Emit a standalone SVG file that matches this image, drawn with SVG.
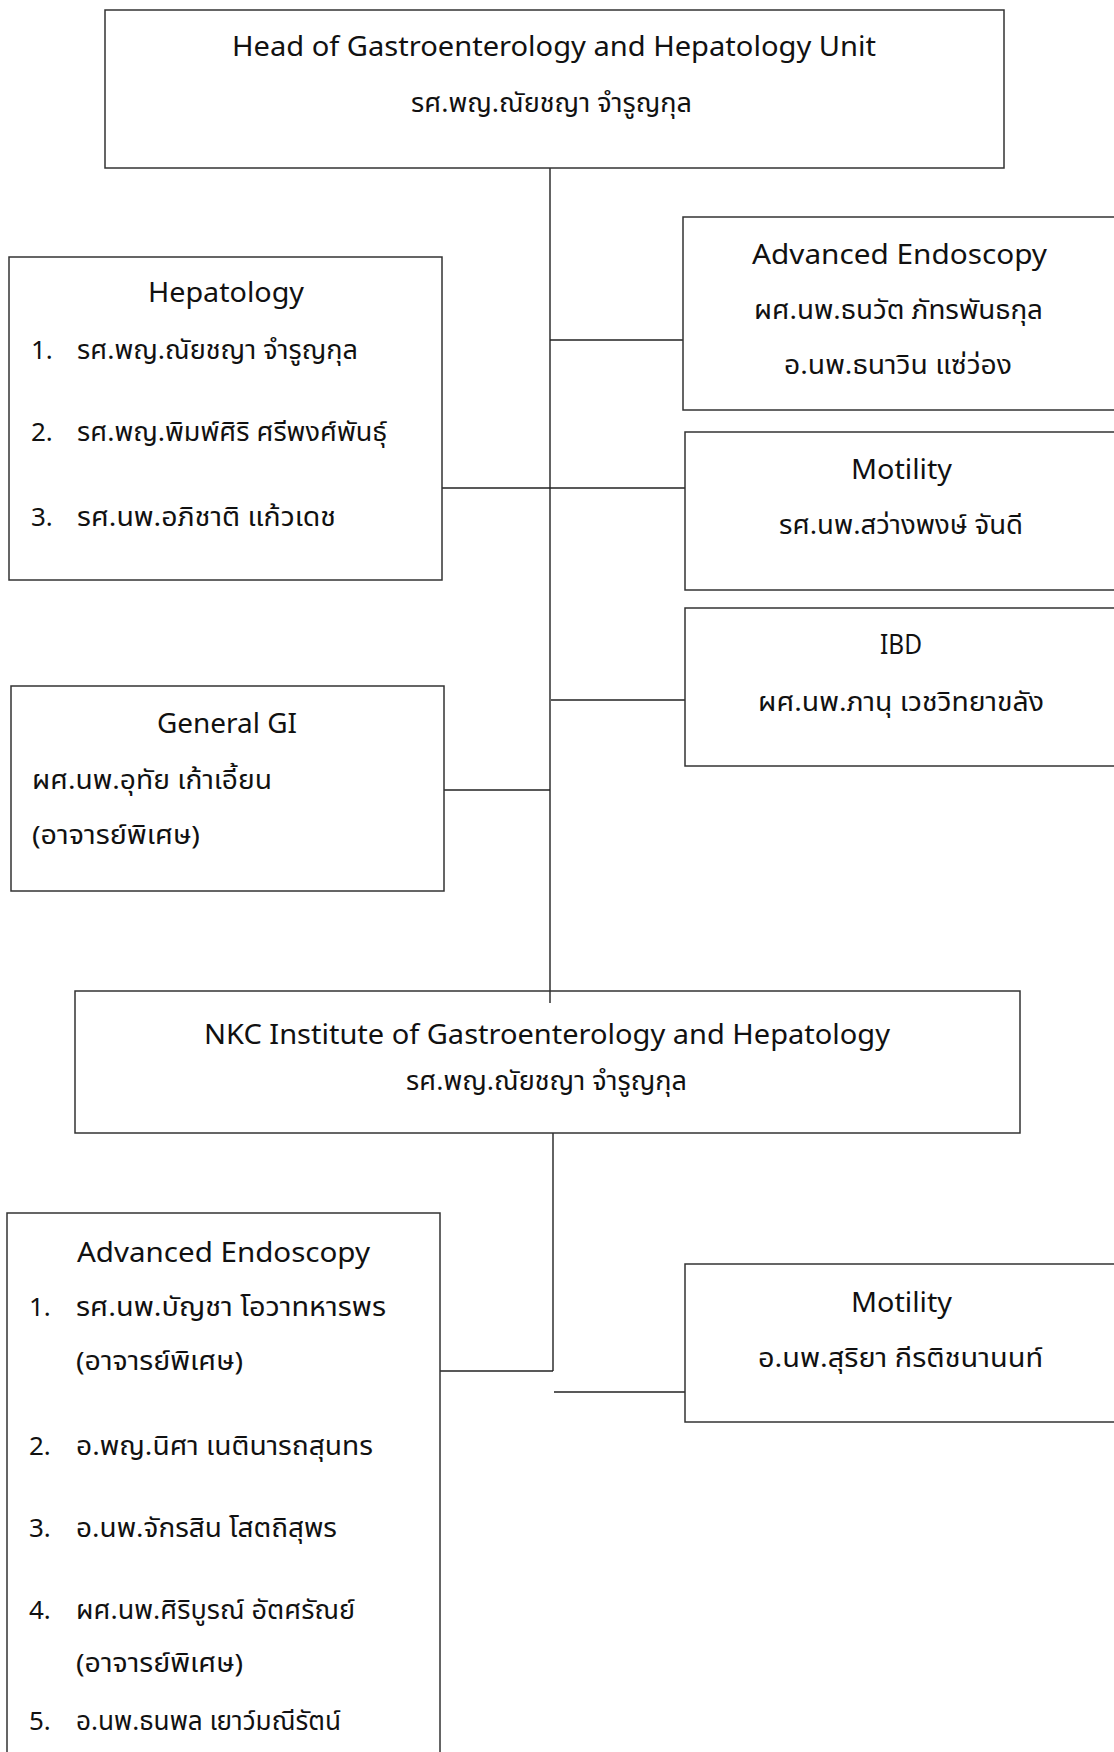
<svg xmlns="http://www.w3.org/2000/svg" width="1114" height="1752" viewBox="0 0 1114 1752">
<style>
  .box { fill: none; stroke: #333333; stroke-width: 1.5; }
  .conn { fill: none; stroke: #222222; stroke-width: 1.4; }
  text { font-family: "Noto Sans", "Noto Sans Thai", "Leelawadee UI", Tahoma, "DejaVu Sans", sans-serif; font-size: 26px; fill: #111111; }
  .lat { font-size: 27px; }
</style>
<rect x="0" y="0" width="1114" height="1752" fill="#ffffff"/>

<g id="connectors">
  <line class="conn" x1="550" y1="168" x2="550" y2="1003"/>
  <line class="conn" x1="550" y1="340" x2="683" y2="340"/>
  <line class="conn" x1="442" y1="488" x2="685" y2="488"/>
  <line class="conn" x1="551" y1="700" x2="685" y2="700"/>
  <line class="conn" x1="444" y1="790" x2="550" y2="790"/>
  <line class="conn" x1="553" y1="1133" x2="553" y2="1371"/>
  <line class="conn" x1="440" y1="1371" x2="553" y2="1371"/>
  <line class="conn" x1="554" y1="1392" x2="685" y2="1392"/>
</g>

<g id="head">
  <rect class="box" x="105" y="10" width="899" height="158"/>
  <text class="lat" x="232" y="56" textLength="644" lengthAdjust="spacingAndGlyphs">Head of Gastroenterology and Hepatology Unit</text>
  <text x="411" y="112" textLength="281" lengthAdjust="spacingAndGlyphs">รศ.พญ.ณัยชญา จำรูญกุล</text>
</g>

<g id="hepatology">
  <rect class="box" x="9" y="257" width="433" height="323"/>
  <text class="lat" x="148" y="302" textLength="156" lengthAdjust="spacingAndGlyphs">Hepatology</text>
  <text x="31" y="359">1.</text>
  <text x="77" y="359" textLength="281" lengthAdjust="spacingAndGlyphs">รศ.พญ.ณัยชญา จำรูญกุล</text>
  <text x="31" y="441">2.</text>
  <text x="77" y="441" textLength="310" lengthAdjust="spacingAndGlyphs">รศ.พญ.พิมพ์ศิริ ศรีพงศ์พันธุ์</text>
  <text x="31" y="526">3.</text>
  <text x="77" y="526" textLength="259" lengthAdjust="spacingAndGlyphs">รศ.นพ.อภิชาติ แก้วเดช</text>
</g>

<g id="advanced-endoscopy-unit">
  <rect class="box" x="683" y="217" width="450" height="193"/>
  <text class="lat" x="752" y="264" textLength="295" lengthAdjust="spacingAndGlyphs">Advanced Endoscopy</text>
  <text x="754" y="319" textLength="289" lengthAdjust="spacingAndGlyphs">ผศ.นพ.ธนวัต ภัทรพันธกุล</text>
  <text x="784" y="374" textLength="228" lengthAdjust="spacingAndGlyphs">อ.นพ.ธนาวิน แซ่ว่อง</text>
</g>

<g id="motility-unit">
  <rect class="box" x="685" y="432" width="450" height="158"/>
  <text class="lat" x="851" y="479" textLength="101" lengthAdjust="spacingAndGlyphs">Motility</text>
  <text x="779" y="534" textLength="244" lengthAdjust="spacingAndGlyphs">รศ.นพ.สว่างพงษ์ จันดี</text>
</g>

<g id="ibd">
  <rect class="box" x="685" y="608" width="450" height="158"/>
  <text class="lat" x="880" y="654" textLength="42" lengthAdjust="spacingAndGlyphs">IBD</text>
  <text x="758" y="711" textLength="286" lengthAdjust="spacingAndGlyphs">ผศ.นพ.ภานุ เวชวิทยาขลัง</text>
</g>

<g id="general-gi">
  <rect class="box" x="11" y="686" width="433" height="205"/>
  <text class="lat" x="157" y="733" textLength="140" lengthAdjust="spacingAndGlyphs">General GI</text>
  <text x="32" y="789" textLength="240" lengthAdjust="spacingAndGlyphs">ผศ.นพ.อุทัย เก้าเอี้ยน</text>
  <text x="32" y="844" textLength="168" lengthAdjust="spacingAndGlyphs">(อาจารย์พิเศษ)</text>
</g>

<g id="nkc-institute">
  <rect class="box" x="75" y="991" width="945" height="142"/>
  <text class="lat" x="204" y="1044" textLength="686" lengthAdjust="spacingAndGlyphs">NKC Institute of Gastroenterology and Hepatology</text>
  <text x="406" y="1090" textLength="281" lengthAdjust="spacingAndGlyphs">รศ.พญ.ณัยชญา จำรูญกุล</text>
</g>

<g id="advanced-endoscopy-nkc">
  <rect class="box" x="7" y="1213" width="433" height="560"/>
  <text class="lat" x="77" y="1262" textLength="293" lengthAdjust="spacingAndGlyphs">Advanced Endoscopy</text>
  <text x="29" y="1316">1.</text>
  <text x="76" y="1316" textLength="310" lengthAdjust="spacingAndGlyphs">รศ.นพ.บัญชา โอวาทหารพร</text>
  <text x="76" y="1370" textLength="167" lengthAdjust="spacingAndGlyphs">(อาจารย์พิเศษ)</text>
  <text x="29" y="1455">2.</text>
  <text x="76" y="1455" textLength="297" lengthAdjust="spacingAndGlyphs">อ.พญ.นิศา เนตินารถสุนทร</text>
  <text x="29" y="1537">3.</text>
  <text x="76" y="1537" textLength="261" lengthAdjust="spacingAndGlyphs">อ.นพ.จักรสิน โสตถิสุพร</text>
  <text x="29" y="1619">4.</text>
  <text x="76" y="1619" textLength="279" lengthAdjust="spacingAndGlyphs">ผศ.นพ.ศิริบูรณ์ อัตศรัณย์</text>
  <text x="76" y="1672" textLength="167" lengthAdjust="spacingAndGlyphs">(อาจารย์พิเศษ)</text>
  <text x="29" y="1730">5.</text>
  <text x="76" y="1730" textLength="265" lengthAdjust="spacingAndGlyphs">อ.นพ.ธนพล เยาว์มณีรัตน์</text>
</g>

<g id="motility-nkc">
  <rect class="box" x="685" y="1264" width="450" height="158"/>
  <text class="lat" x="851" y="1312" textLength="101" lengthAdjust="spacingAndGlyphs">Motility</text>
  <text x="758" y="1367" textLength="285" lengthAdjust="spacingAndGlyphs">อ.นพ.สุริยา กีรติชนานนท์</text>
</g>
</svg>
